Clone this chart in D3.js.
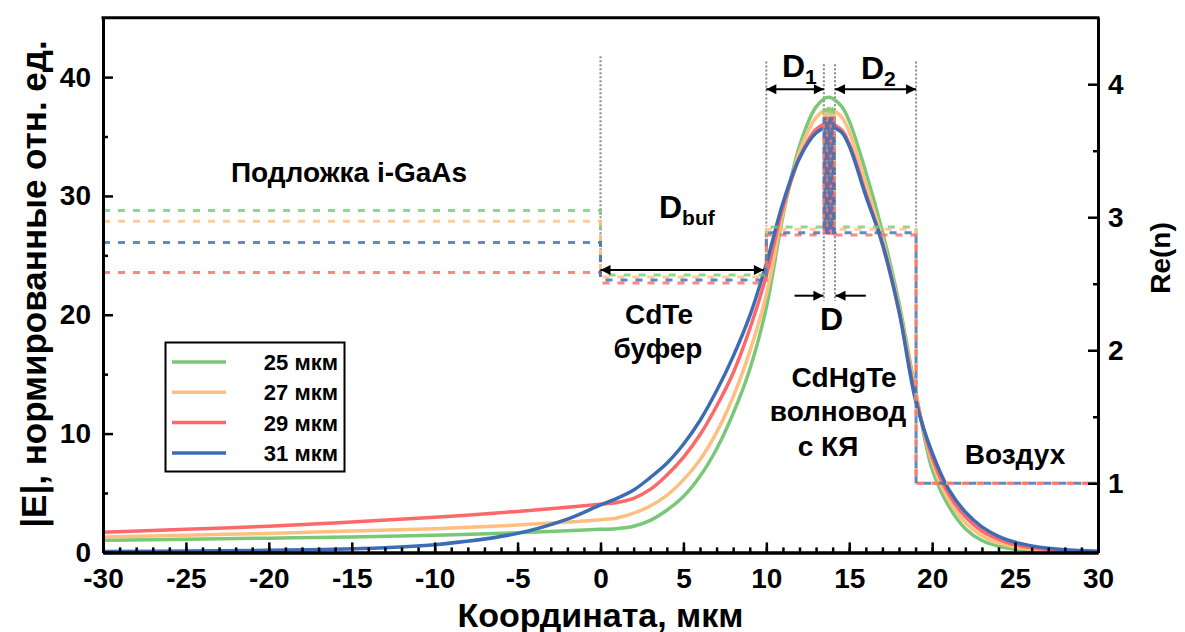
<!DOCTYPE html>
<html>
<head>
<meta charset="utf-8">
<script src="https://cdn.jsdelivr.net/npm/d3@7/dist/d3.min.js"></script>
<style>
  body { margin: 0; background: #fff; }
  text { font-family: "Liberation Sans", Arial, sans-serif; font-weight: bold; fill: #000; }
</style>
</head>
<body>
<div id="chart"></div>
<script>
// ---------------- data ----------------
// coordinate samples (мкм)
var coords = [-30, -25, -20, -15, -10, -5, -2, 0,
  1, 2, 3, 4, 5, 6, 7, 8, 9, 10, 11, 12, 13, 13.75, 14.5,
  15, 16, 17, 18, 19, 20, 21, 22, 23, 24, 25, 26, 27, 28, 30];

// |E| for each wavelength
var field25 = [1.02, 1.1, 1.2, 1.3, 1.45, 1.65, 1.82, 1.94,
  2.0, 2.2, 2.7, 3.55, 4.7, 6.4, 8.7, 11.7, 15.4, 20.6, 28.3, 34.2, 37.5, 38.3, 37.6,
  36.3, 32.0, 27.0, 21.0, 13.6, 7.0, 3.9, 2.0, 1.0, 0.52, 0.27, 0.14, 0.07, 0.04, 0.01];
var field27 = [1.3, 1.45, 1.6, 1.8, 2.0, 2.3, 2.55, 2.75,
  2.9, 3.3, 3.9, 4.8, 6.1, 7.8, 10.1, 13.1, 16.9, 21.7, 28.6, 33.7, 36.6, 37.3, 36.7,
  35.4, 31.0, 26.4, 20.6, 13.4, 7.6, 4.4, 2.5, 1.4, 0.8, 0.45, 0.25, 0.14, 0.08, 0.03];
var field29 = [1.7, 1.95, 2.2, 2.55, 2.95, 3.45, 3.8, 4.05,
  4.2, 4.55, 5.3, 6.5, 8.0, 9.9, 12.3, 15.1, 18.8, 23.3, 29.0, 33.2, 35.6, 36.1, 35.6,
  34.4, 30.2, 25.9, 20.3, 13.1, 8.0, 4.9, 3.0, 1.8, 1.1, 0.65, 0.4, 0.24, 0.14, 0.05];
var field31 = [0.08, 0.12, 0.18, 0.3, 0.65, 1.6, 2.8, 4.0,
  4.55, 5.25, 6.3, 7.5, 9.1, 11.1, 13.6, 16.5, 19.9, 24.3, 29.4, 33.2, 35.3, 35.8, 35.4,
  34.2, 30.0, 26.0, 20.3, 12.8, 8.4, 5.3, 3.4, 2.15, 1.35, 0.85, 0.55, 0.35, 0.22, 0.09];

var seriesNames = ["25 мкм", "27 мкм", "29 мкм", "31 мкм"];
var seriesColors = ["#78c878", "#ffbf80", "#ff6868", "#3c6cb4"];

// Re(n) of each layer, same order as the series
var nSubstrate = [3.05, 2.97, 2.585, 2.81];
var nBuffer = [2.566, 2.551, 2.506, 2.528];
var nGuide = [2.927, 2.909, 2.866, 2.884];
var nWell = [3.82, 3.80, 3.76, 3.74];
var nAir = 1.0;

// layer boundaries (мкм): substrate | buffer | guide | air
var bufferStart = 0, guideStart = 10, guideEnd = 19.03;
var wellEdges = [[13.48, 13.54], [13.62, 13.68], [13.76, 13.82], [13.90, 13.96], [14.04, 14.10]];
var qwStart = 13.47, qwEnd = 14.14;

// ---------------- chart ----------------
var W = 1185, H = 632;
var mLeft = 103, mRight = 1098, mTop = 17.7, mBottom = 552.4;

var svg = d3.select("#chart").append("svg")
  .attr("width", W).attr("height", H);

var x = d3.scaleLinear().domain([-30, 30]).range([mLeft, mRight]);
var yL = d3.scaleLinear().domain([0, 45]).range([mBottom, mTop]);
var yR = d3.scaleLinear().domain([0.48, 4.5]).range([mBottom, mTop]);

// arrow head
svg.append("defs").append("marker")
  .attr("id", "arr")
  .attr("viewBox", "0 0 10 10")
  .attr("refX", 10).attr("refY", 5)
  .attr("markerWidth", 14).attr("markerHeight", 10)
  .attr("markerUnits", "userSpaceOnUse")
  .attr("orient", "auto-start-reverse")
  .append("path").attr("d", "M0,0L10,5L0,10z").attr("fill", "#000");

// gray dotted guides
var guides = [
  {x: bufferStart, n0: 4.21, n1: 2.6},
  {x: guideStart, n0: 4.17, n1: 2.93},
  {x: qwStart, n0: 4.15, n1: 2.37},
  {x: qwEnd, n0: 4.15, n1: 2.37},
  {x: guideEnd, n0: 4.17, n1: 2.93}
];
svg.append("g").selectAll("line").data(guides).enter().append("line")
  .attr("x1", d => x(d.x)).attr("x2", d => x(d.x))
  .attr("y1", d => yR(d.n0)).attr("y2", d => yR(d.n1))
  .attr("stroke", "#8a8a8a").attr("stroke-width", 2)
  .attr("stroke-dasharray", "2,2");

// field curves
var fields = [field25, field27, field29, field31];
var fieldLine = d3.line()
  .x(d => x(d[0]))
  .y(d => yL(d[1]))
  .curve(d3.curveCatmullRom.alpha(0.5));

svg.append("g").selectAll("path").data(fields).enter().append("path")
  .attr("d", f => fieldLine(coords.map((c, i) => [c, f[i]])))
  .attr("fill", "none")
  .attr("stroke", (f, i) => seriesColors[i])
  .attr("stroke-width", 3.5);

// refractive index profiles
function profile(i) {
  var p = [[-30, nSubstrate[i]], [bufferStart, nSubstrate[i]],
           [bufferStart, nBuffer[i]], [guideStart, nBuffer[i]],
           [guideStart, nGuide[i]]];
  wellEdges.forEach(w => {
    p.push([w[0], nGuide[i]], [w[0], nWell[i]], [w[1], nWell[i]], [w[1], nGuide[i]]);
  });
  p.push([guideEnd, nGuide[i]], [guideEnd, nAir], [30, nAir]);
  return p;
}
var profLine = d3.line().x(d => x(d[0])).y(d => yR(d[1]));
svg.append("g").selectAll("path").data(seriesColors).enter().append("path")
  .attr("d", (c, i) => profLine(profile(i)))
  .attr("fill", "none")
  .attr("stroke", c => c)
  .attr("stroke-opacity", 0.8)
  .attr("stroke-width", 3)
  .attr("stroke-dasharray", "7,8");

// dimension arrows
function arrow(x1, x2, n, both) {
  var l = svg.append("line")
    .attr("x1", x(x1)).attr("x2", x(x2))
    .attr("y1", yR(n)).attr("y2", yR(n))
    .attr("stroke", "#000").attr("stroke-width", 2)
    .attr("marker-end", "url(#arr)");
  if (both) l.attr("marker-start", "url(#arr)");
}
arrow(bufferStart, 9.85, 2.603, true);
arrow(guideStart, qwStart, 3.962, true);
arrow(qwEnd, guideEnd, 3.962, true);
arrow(11.7, qwStart - 0.03, 2.41, false);
arrow(16.0, qwEnd + 0.03, 2.41, false);

// axes
var axisG = svg.append("g");
function styleAxis(g) {
  g.selectAll(".domain").attr("stroke", "#000").attr("stroke-width", 3);
  g.selectAll(".tick line").attr("stroke", "#000").attr("stroke-width", 2.5);
  g.selectAll(".tick text").style("font-size", "28px").attr("fill", "#000");
}
var plain = d => String(d);
axisG.append("g").attr("transform", "translate(0," + mBottom + ")")
  .call(d3.axisBottom(x).tickValues(d3.range(-30, 31, 1)).tickSize(-5).tickSizeOuter(0).tickFormat(""))
  .call(styleAxis);
axisG.append("g").attr("transform", "translate(0," + mBottom + ")")
  .call(d3.axisBottom(x).tickValues(d3.range(-30, 31, 5)).tickSize(-10).tickSizeOuter(0).tickPadding(16).tickFormat(plain))
  .call(styleAxis);
axisG.append("g").attr("transform", "translate(" + mLeft + ",0)")
  .call(d3.axisLeft(yL).tickValues([5, 15, 25, 35]).tickSize(-5).tickSizeOuter(0).tickFormat(""))
  .call(styleAxis);
axisG.append("g").attr("transform", "translate(" + mLeft + ",0)")
  .call(d3.axisLeft(yL).tickValues([0, 10, 20, 30, 40]).tickSize(-10).tickSizeOuter(0).tickPadding(12).tickFormat(plain))
  .call(styleAxis);
axisG.append("g").attr("transform", "translate(" + mRight + ",0)")
  .call(d3.axisRight(yR).tickValues([1.5, 2.5, 3.5]).tickSize(-5).tickSizeOuter(0).tickFormat(""))
  .call(styleAxis);
axisG.append("g").attr("transform", "translate(" + mRight + ",0)")
  .call(d3.axisRight(yR).tickValues([1, 2, 3, 4]).tickSize(-10).tickSizeOuter(0).tickPadding(10).tickFormat(plain))
  .call(styleAxis);
axisG.append("line")
  .attr("x1", mLeft - 1.5).attr("x2", mRight + 1.5)
  .attr("y1", mTop).attr("y2", mTop)
  .attr("stroke", "#000").attr("stroke-width", 3);

// axis titles
svg.append("text").attr("x", (mLeft + mRight) / 2).attr("y", 627)
  .attr("text-anchor", "middle").style("font-size", "34px")
  .text("Координата, мкм");
svg.append("text").attr("transform", "rotate(-90)")
  .attr("x", -284).attr("y", 46)
  .attr("text-anchor", "middle").style("font-size", "35px")
  .text("|E|, нормированные отн. ед.");
svg.append("text").attr("transform", "rotate(-90)")
  .attr("x", -258).attr("y", 1170)
  .attr("text-anchor", "middle").style("font-size", "28px")
  .text("Re(n)");

// region labels
var notes = [
  {t: "Подложка i-GaAs", x: 349, y: 182},
  {t: "CdTe", x: 659, y: 324},
  {t: "буфер", x: 658, y: 358},
  {t: "CdHgTe", x: 844, y: 387},
  {t: "волновод", x: 838, y: 421},
  {t: "с КЯ", x: 828, y: 456},
  {t: "Воздух", x: 1015, y: 464}
];
svg.append("g").selectAll("text").data(notes).enter().append("text")
  .attr("x", d => d.x).attr("y", d => d.y)
  .attr("text-anchor", "middle").style("font-size", "28px")
  .text(d => d.t);

// dimension labels with subscripts
function dimLabel(px, py, main, sub) {
  var t = svg.append("text").attr("x", px).attr("y", py).style("font-size", "32px");
  t.append("tspan").text(main);
  if (sub) t.append("tspan").attr("dy", 7).style("font-size", "21px").text(sub);
}
dimLabel(782, 77, "D", "1");
dimLabel(861, 79, "D", "2");
dimLabel(659, 218, "D", "buf");
dimLabel(820, 330, "D", null);

// legend
var lg = svg.append("g");
lg.append("rect").attr("x", 165.5).attr("y", 342.5).attr("width", 179).attr("height", 129)
  .attr("fill", "#fff").attr("stroke", "#000").attr("stroke-width", 2);
seriesNames.forEach(function(name, i) {
  var yy = 362 + i * 30.3;
  lg.append("line").attr("x1", 172).attr("x2", 226).attr("y1", yy).attr("y2", yy)
    .attr("stroke", seriesColors[i]).attr("stroke-width", 3.5);
  lg.append("text").attr("x", 338).attr("y", yy + 8)
    .attr("text-anchor", "end").style("font-size", "22px").text(name);
});
</script>
</body>
</html>
